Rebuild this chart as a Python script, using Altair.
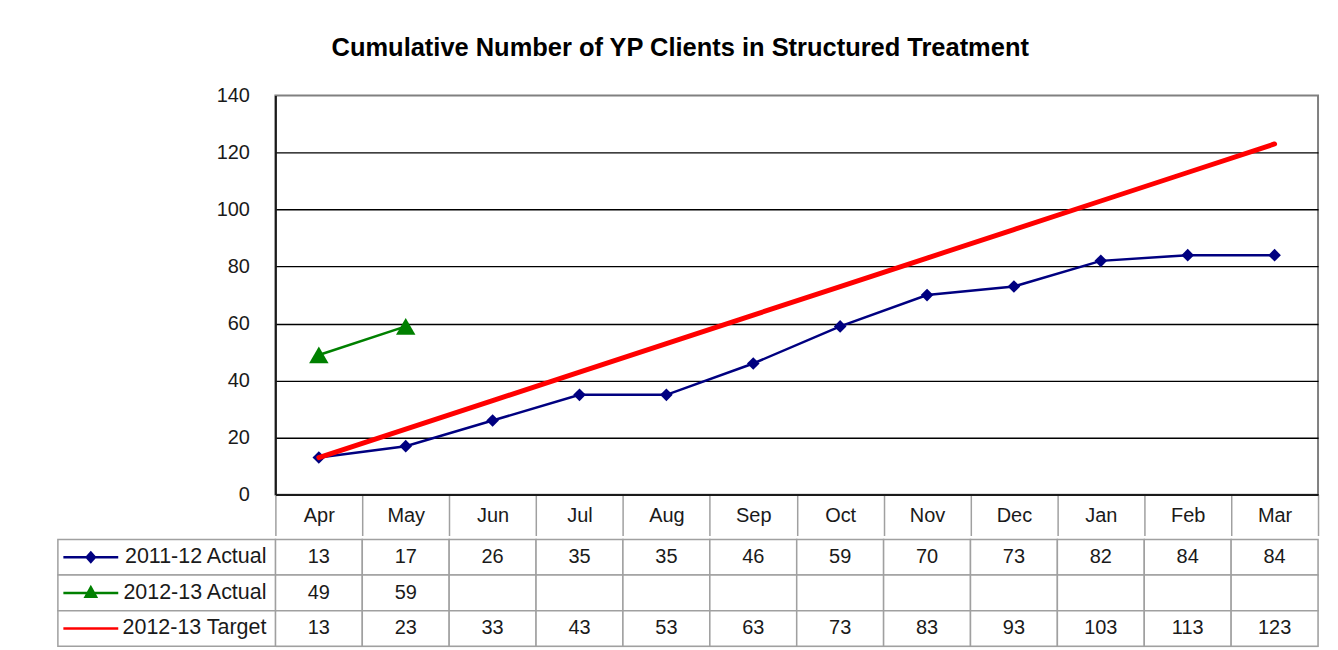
import altair as alt
import pandas as pd

# ---- data ----
months = ["Apr", "May", "Jun", "Jul", "Aug", "Sep", "Oct", "Nov", "Dec", "Jan", "Feb", "Mar"]
actual_2011_12 = [13, 17, 26, 35, 35, 46, 59, 70, 73, 82, 84, 84]
actual_2012_13 = [49, 59]
target_2012_13 = [13, 23, 33, 43, 53, 63, 73, 83, 93, 103, 113, 123]
series_names = ["2011-12 Actual", "2012-13 Actual", "2012-13 Target"]
series_colors = ["#000080", "#008000", "#FF0000"]
y_ticks = [0, 20, 40, 60, 80, 100, 120, 140]
chart_title = "Cumulative Number of YP Clients in Structured Treatment"

series_values = [actual_2011_12, actual_2012_13, target_2012_13]

rows = []
for name, vals in zip(series_names, series_values):
    for m, v in zip(months, vals):
        rows.append({"month": m, "series": name, "value": v})
long_df = pd.DataFrame(rows)

cells = []
for name, vals in zip(series_names, series_values):
    for i, m in enumerate(months):
        cells.append({"row": name, "month": m, "label": str(vals[i]) if i < len(vals) else ""})
table_df = pd.DataFrame(cells)
legend_df = pd.DataFrame({"row": series_names})

FONT = "Liberation Sans"
TEXT = "#1a1a1a"
CELL = "#a0a0a0"
FS = 20

# ---- plot ----
band = alt.Scale(type="band", domain=months, paddingInner=0, paddingOuter=0)
x_enc = alt.X("month:N", sort=months, scale=band, bandPosition=0.5,
              axis=alt.Axis(title=None, grid=False, domainColor=TEXT, domainWidth=2,
                            ticks=True, tickBand="extent", tickSize=41, tickColor=CELL, tickWidth=1.5,
                            labelFontSize=FS, labelFont=FONT, labelColor=TEXT, labelAngle=0,
                            labelBaseline="middle", labelPadding=-20,
                            minExtent=41, maxExtent=41))
y_enc = alt.Y("value:Q", scale=alt.Scale(domain=[0, 140], nice=False),
              axis=alt.Axis(values=y_ticks, title=None, ticks=False,
                            labelFontSize=FS, labelFont=FONT, labelColor=TEXT,
                            labelPadding=26, domainColor=TEXT, domainWidth=2,
                            gridColor="#000000", gridWidth=1.3,
                            gridOpacity={"condition": {"test": "datum.value === 140", "value": 0}, "value": 1},
                            minExtent=218, maxExtent=218))


def sel(name):
    return alt.Chart(long_df).transform_filter(alt.datum.series == name)


blue_line = sel(series_names[0]).mark_line(color=series_colors[0], strokeWidth=2.5).encode(x=x_enc, y=y_enc)
blue_pts = sel(series_names[0]).mark_point(shape="diamond", filled=True, size=160, opacity=1,
                                          color=series_colors[0]).encode(x=x_enc, y=y_enc)
green_line = sel(series_names[1]).mark_line(color=series_colors[1], strokeWidth=2.5).encode(x=x_enc, y=y_enc)
green_pts = sel(series_names[1]).mark_point(shape="triangle-up", filled=True, size=380, opacity=1,
                                           color=series_colors[1]).encode(x=x_enc, y=y_enc)
red_line = sel(series_names[2]).mark_line(color=series_colors[2], strokeWidth=5,
                                          strokeCap="round").encode(x=x_enc, y=y_enc)

plot = alt.layer(blue_line, blue_pts, green_line, green_pts, red_line).properties(
    width=1045, height=400,
    view=alt.ViewBackground(stroke="#808080", strokeWidth=2))

# ---- data table (with legend column to the left of the plot origin) ----
tx = alt.X("month:N", sort=months, scale=alt.Scale(type="band", domain=months, paddingInner=0, paddingOuter=0),
           axis=None)
tx_c = alt.X("month:N", sort=months, scale=alt.Scale(type="band", domain=months, paddingInner=0, paddingOuter=0),
             axis=None, bandPosition=0.5)
ty = alt.Y("row:N", sort=series_names,
           scale=alt.Scale(type="band", domain=series_names, paddingInner=0, paddingOuter=0), axis=None)
ty_c = alt.Y("row:N", sort=series_names,
             scale=alt.Scale(type="band", domain=series_names, paddingInner=0, paddingOuter=0), axis=None,
             bandPosition=0.5)

grid = alt.Chart(table_df).mark_rect(fill="white", stroke=CELL, strokeWidth=1.5).encode(x=tx, y=ty)
txt = alt.Chart(table_df).mark_text(fontSize=FS, font=FONT, color=TEXT).encode(x=tx_c, y=ty_c, text="label:N")

diamond_path = "M-1,0L1,0M0,-0.17L0.15,0L0,0.17L-0.15,0Z"
triangle_path = "M-1,0L1,0M-0.19,0.14L0,-0.2L0.19,0.14Z"
line_path = "M-1,0L1,0"

leg_band = alt.X("col:N", scale=alt.Scale(type="band", domain=["legend"], range=[-218, 0],
                                          paddingInner=0, paddingOuter=0), axis=None)
lx = alt.X("part:N", scale=alt.Scale(type="point", domain=["symbol", "label"], range=[-185, -9], padding=0),
           axis=None)

leg_cells = alt.Chart(legend_df).transform_calculate(col="'legend'").mark_rect(
    fill="white", stroke=CELL, strokeWidth=1.5).encode(x=leg_band, y=ty)
leg_sym = alt.Chart(legend_df).transform_calculate(part="'symbol'").mark_point(
    filled=False, strokeWidth=2.5, opacity=1, size=3025).encode(
    x=lx, y=ty_c,
    color=alt.Color("row:N", scale=alt.Scale(domain=series_names, range=series_colors), legend=None),
    fill=alt.Fill("row:N", scale=alt.Scale(domain=series_names, range=series_colors), legend=None),
    shape=alt.Shape("row:N", scale=alt.Scale(domain=series_names,
                                             range=[diamond_path, triangle_path, line_path]), legend=None))
leg_txt = alt.Chart(legend_df).transform_calculate(part="'label'").mark_text(
    align="right", fontSize=21.5, font=FONT, color=TEXT).encode(x=lx, y=ty_c, text="row:N")

table = alt.layer(grid, txt, leg_cells, leg_sym, leg_txt).resolve_scale(x="independent").properties(
    width=1045, height=107)

chart = alt.vconcat(plot, table, spacing=0).properties(
    title=alt.TitleParams(chart_title, fontSize=25.5, font=FONT, fontWeight="bold", color="#000000",
                          anchor="middle", dx=-8, offset=23),
    padding={"left": 48, "top": 27, "right": 10, "bottom": 0},
).configure_view(stroke="transparent").configure(background="white")

chart.save("out.html", embed_options={"renderer": "svg", "actions": False})
